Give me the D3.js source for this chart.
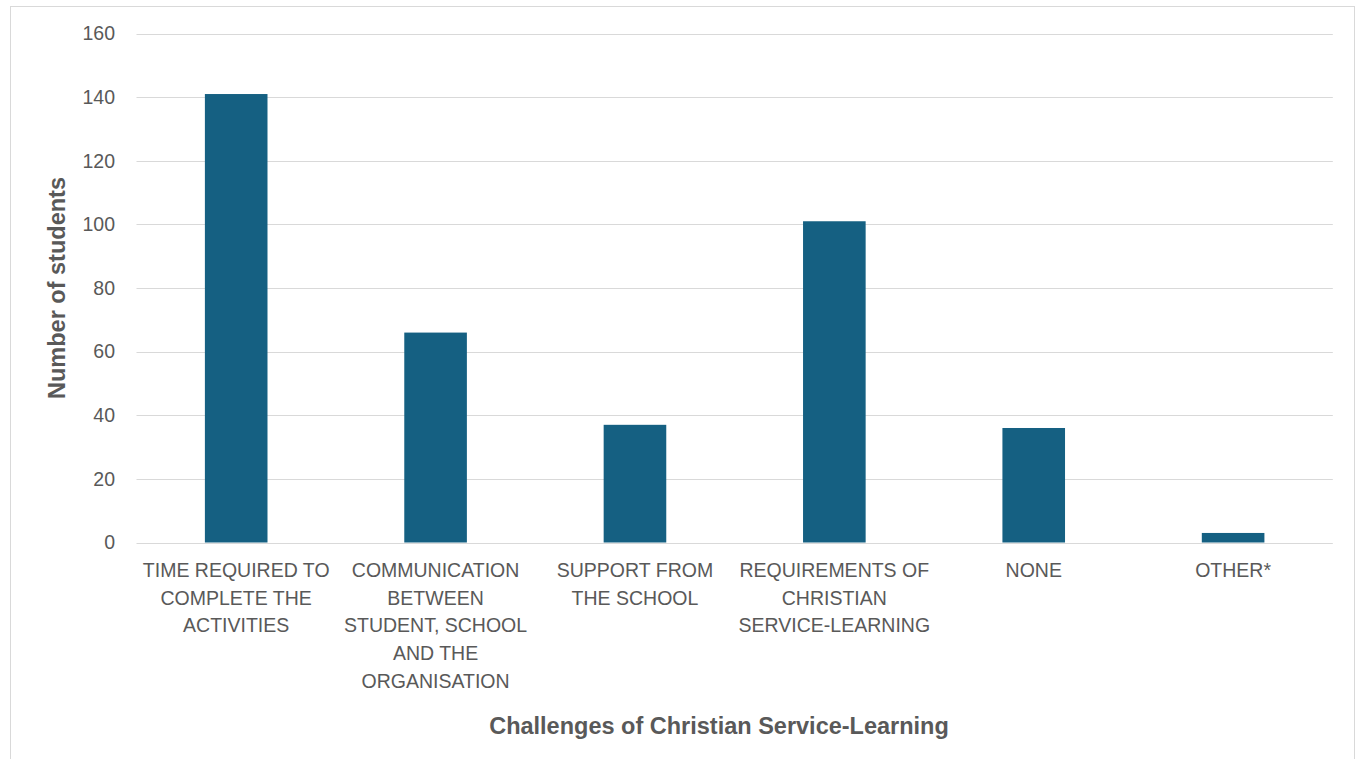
<!DOCTYPE html>
<html><head><meta charset="utf-8">
<script src="https://cdn.jsdelivr.net/npm/d3@7"></script>
<style>
html,body{margin:0;padding:0;background:#fff;}
svg{display:block;}
</style></head>
<body>
<svg id="chart" width="1356" height="759"></svg>
<script>
const categories = [
  "TIME REQUIRED TO\nCOMPLETE THE\nACTIVITIES",
  "COMMUNICATION\nBETWEEN\nSTUDENT, SCHOOL\nAND THE\nORGANISATION",
  "SUPPORT FROM\nTHE SCHOOL",
  "REQUIREMENTS OF\nCHRISTIAN\nSERVICE-LEARNING",
  "NONE",
  "OTHER*"
];
const values = [141, 66, 37, 101, 36, 3];
const yTicks = [0, 20, 40, 60, 80, 100, 120, 140, 160];
const xTitle = "Challenges of Christian Service-Learning";
const yTitle = "Number of students";

const svg = d3.select("#chart");
const font = "'Liberation Sans', Arial, sans-serif";
const textColor = "#595959";

// chart border
svg.append("rect").attr("x", 10.5).attr("y", 6.5).attr("width", 1344).attr("height", 800)
  .attr("fill", "none").attr("stroke", "#d9d9d9").attr("stroke-width", 1);

const plot = {left: 136.5, right: 1332.8, top: 33.6, bottom: 542.5};

const x = d3.scaleBand().domain(d3.range(categories.length))
  .range([plot.left, plot.right]).paddingInner(0.686).paddingOuter(0.343);
const y = d3.scaleLinear().domain([0, 160]).range([plot.bottom, plot.top]);

// gridlines
svg.append("g").selectAll("line").data(yTicks).join("line")
  .attr("x1", plot.left).attr("x2", plot.right)
  .attr("y1", d => Math.round(y(d)) + 0.5).attr("y2", d => Math.round(y(d)) + 0.5)
  .attr("stroke", "#d9d9d9").attr("stroke-width", 1);

// y tick labels
svg.append("g").selectAll("text").data(yTicks).join("text")
  .attr("x", 115).attr("y", d => y(d)).attr("dy", "0.35em")
  .attr("text-anchor", "end").attr("font-family", font).attr("font-size", 19.5)
  .attr("fill", textColor).text(d => d);

// bars
svg.append("g").selectAll("rect").data(values).join("rect")
  .attr("x", (d, i) => x(i)).attr("width", x.bandwidth())
  .attr("y", d => y(d)).attr("height", d => y(0) - y(d))
  .attr("fill", "#156082");

// category labels
const catG = svg.append("g");
categories.forEach((c, i) => {
  const t = catG.append("text").attr("text-anchor", "middle")
    .attr("font-family", font).attr("font-size", 19.5).attr("fill", textColor);
  c.split("\n").forEach((line, j) => {
    t.append("tspan").attr("x", x(i) + x.bandwidth() / 2).attr("y", 577 + j * 27.7).text(line);
  });
});

// axis titles
svg.append("text").attr("x", 719).attr("y", 734)
  .attr("text-anchor", "middle").attr("font-family", font).attr("font-size", 23.5)
  .attr("font-weight", "bold").attr("fill", textColor).text(xTitle);

svg.append("text").attr("transform", "translate(65,288) rotate(-90)")
  .attr("text-anchor", "middle").attr("font-family", font).attr("font-size", 23.5)
  .attr("font-weight", "bold").attr("fill", textColor).text(yTitle);
</script>
</body></html>
